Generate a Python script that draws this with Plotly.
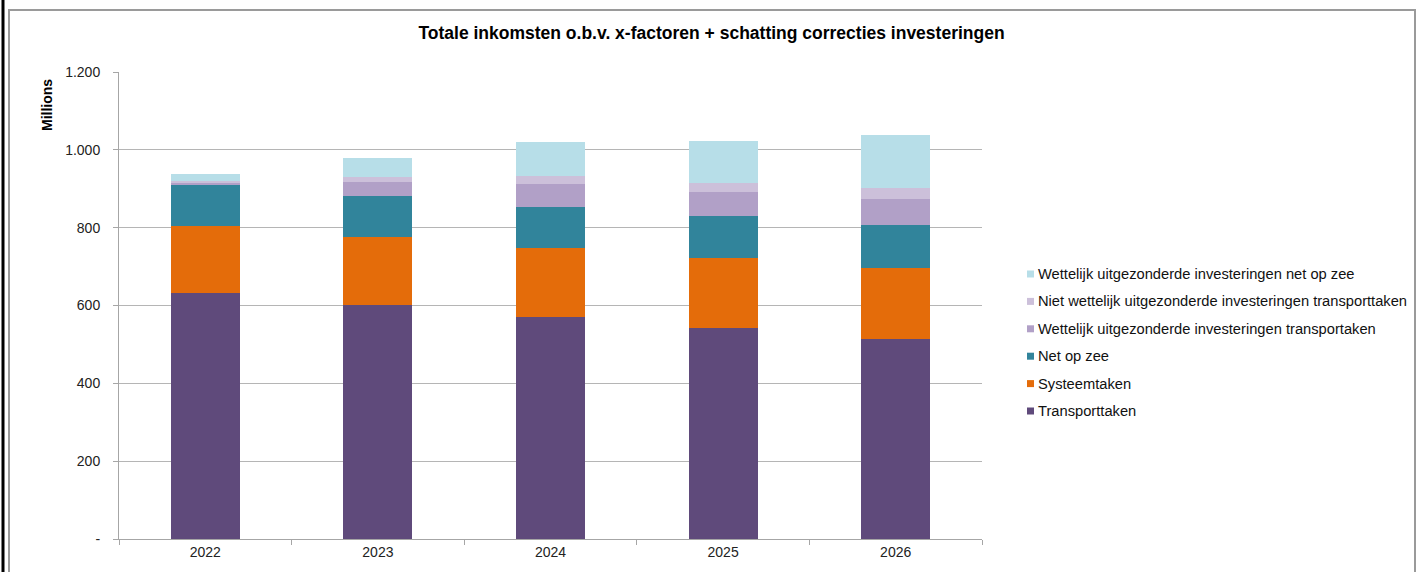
import plotly.graph_objects as go

# Years on the category axis
years = ["2022", "2023", "2024", "2025", "2026"]

# Revenue components (millions of euros), bottom to top of each stack
transporttaken = [632, 601, 570, 542, 514]
systeemtaken = [172, 175, 178, 180, 182]
net_op_zee = [106, 105, 105, 108, 111]
wettelijk_transport = [4, 36, 59, 62, 67]
niet_wettelijk_transport = [6, 13, 21, 23, 28]
wettelijk_net_op_zee = [18, 49, 87, 108, 136]

series_names = [
    "Transporttaken",
    "Systeemtaken",
    "Net op zee",
    "Wettelijk uitgezonderde investeringen transportaken",
    "Niet wettelijk uitgezonderde investeringen transporttaken",
    "Wettelijk uitgezonderde investeringen net op zee",
]
series_values = [
    transporttaken,
    systeemtaken,
    net_op_zee,
    wettelijk_transport,
    niet_wettelijk_transport,
    wettelijk_net_op_zee,
]
series_colors = ["#5F4A7B", "#E46C0A", "#31849B", "#B1A0C7", "#CCC0DA", "#B7DEE8"]

y_ticks = [0, 200, 400, 600, 800, 1000, 1200]
y_tick_labels = ["-", "200", "400", "600", "800", "1.000", "1.200"]

W, H = 1423, 572
L, R, T, B = 119, 441, 72, 33

fig = go.Figure()
for name, vals, col in zip(series_names, series_values, series_colors):
    fig.add_trace(go.Bar(
        x=years, y=vals, name=name,
        marker=dict(color=col, line=dict(width=0)),
        width=0.4, showlegend=False,
    ))

font_family = "Liberation Sans, Arial, sans-serif"


def px_x(px):
    return (px - L) / (W - L - R)


def px_y(py):
    return (H - B - py) / (H - T - B)


shapes = []
annotations = []

# Hand-placed legend, top entry is the top of the stack
legend_top = 274
legend_step = 27.4
for i, (name, col) in enumerate(reversed(list(zip(series_names, series_colors)))):
    cy = legend_top + i * legend_step
    shapes.append(dict(
        type="rect", xref="paper", yref="paper",
        x0=px_x(1027), x1=px_x(1034), y0=px_y(cy + 3.5), y1=px_y(cy - 3.5),
        fillcolor=col, line=dict(width=0),
    ))
    annotations.append(dict(
        xref="paper", yref="paper", x=px_x(1036), y=px_y(cy),
        xanchor="left", yanchor="middle", showarrow=False,
        text=name, font=dict(family=font_family, size=14.7, color="#111111"),
    ))

# Y-axis display unit label
annotations.append(dict(
    xref="paper", yref="paper", x=px_x(47), y=px_y(105),
    xanchor="center", yanchor="middle", showarrow=False, textangle=-90,
    text="<b>Millions</b>", font=dict(family=font_family, size=14, color="#000000"),
))

# Chart frame
shapes.append(dict(type="rect", xref="paper", yref="paper",
                   x0=px_x(9), x1=px_x(1415), y0=px_y(600), y1=px_y(10),
                   line=dict(color="#9A9A9A", width=2), layer="below"))
shapes.append(dict(type="line", xref="paper", yref="paper",
                   x0=px_x(3), x1=px_x(3), y0=px_y(600), y1=px_y(-10),
                   line=dict(color="#000000", width=3)))

fig.update_layout(
    width=W, height=H,
    margin=dict(l=L, r=R, t=T, b=B),
    paper_bgcolor="white", plot_bgcolor="white",
    barmode="stack",
    bargap=0.6,
    title=dict(
        text="<b>Totale inkomsten o.b.v. x-factoren + schatting correcties investeringen</b>",
        x=0.5, xref="container", xanchor="center", y=1 - 33 / H, yanchor="middle",
        font=dict(family=font_family, size=17.5, color="#000000"),
    ),
    xaxis=dict(
        type="category", showgrid=False,
        showline=True, linecolor="#A6A6A6", linewidth=1,
        ticks="outside", tickson="boundaries", ticklen=5, tickcolor="#A6A6A6",
        tickfont=dict(family=font_family, size=14, color="#222222"),
    ),
    yaxis=dict(
        range=[0, 1200], tickvals=y_ticks, ticktext=y_tick_labels,
        showgrid=True, gridcolor="#B5B5B5", gridwidth=1,
        showline=True, linecolor="#A6A6A6", linewidth=1,
        ticks="outside", ticklen=5, tickcolor="#A6A6A6",
        tickfont=dict(family=font_family, size=14, color="#222222"),
        ticklabelstandoff=10, zeroline=False,
    ),
    shapes=shapes,
    annotations=annotations,
)

fig.write_html("out.html")
